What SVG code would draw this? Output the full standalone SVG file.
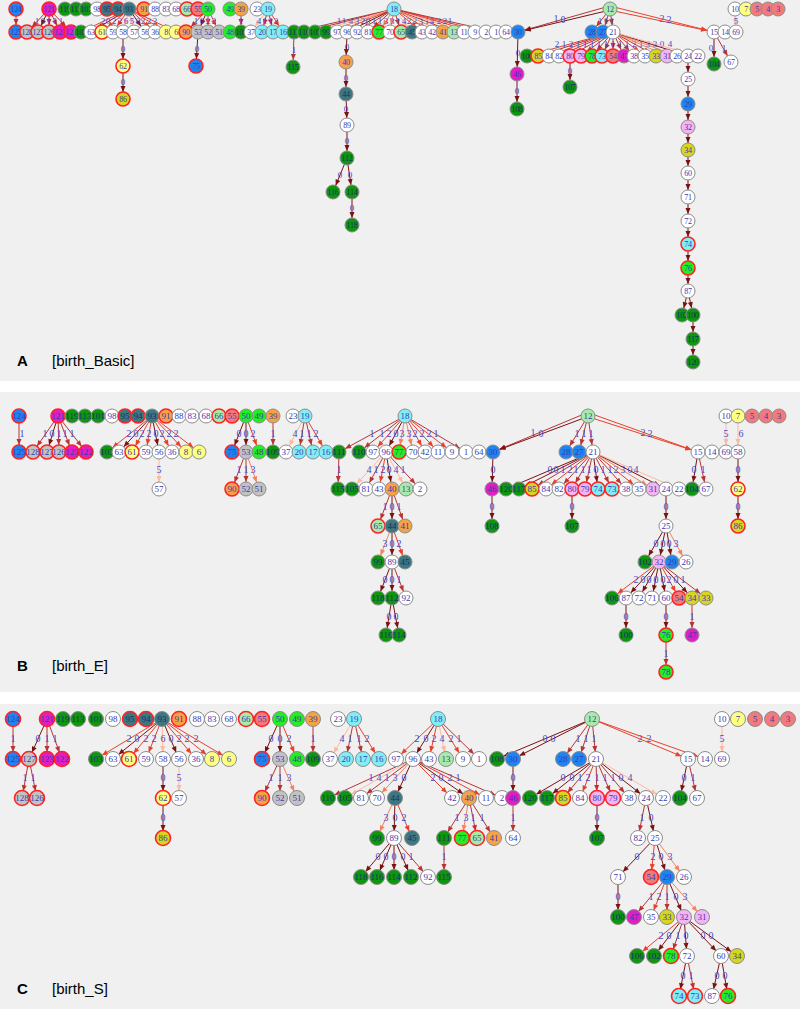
<svg xmlns="http://www.w3.org/2000/svg" width="800" height="1009" viewBox="0 0 800 1009">
<style>
.n circle{stroke:#8c8c8c;stroke-width:1}
.n text{font:9px "Liberation Serif",serif;fill:#3a3ab0;text-anchor:middle}
#nodesA .n text{font-size:8px;letter-spacing:-0.3px}
.w circle{fill:#fff}
.bl circle{fill:#1e84f2}
.mg circle{fill:#e01ec4}
.dg circle{fill:#0e960e}
.tl circle{fill:#3d7780}
.or circle{fill:#f6a244}
.lg circle{fill:#a6eca6}
.sa circle{fill:#f27a7a}
.bg circle{fill:#22ee22}
.gr circle{fill:#c2c2c2}
.ly circle{fill:#ffff80}
.ol circle{fill:#d6d61c}
.cy circle{fill:#80eef6}
.pk circle{fill:#f4b4f4}
.r circle{stroke:#ff2222;stroke-width:1.6}
.dg text,.tl text{fill:#17306a}
#connectors path{fill:none;stroke-width:1}
.e0{stroke:#7a1212;marker-end:url(#m0)}
.e1{stroke:#b83434;marker-end:url(#m1)}
.e2{stroke:#e8402c;marker-end:url(#m2)}
.e3{stroke:#f5825e;marker-end:url(#m3)}
.e4{stroke:#ffb8a0;marker-end:url(#m4)}
#connectors text{font:10px "Liberation Serif",serif;fill:#4a4ac4;text-anchor:middle}
#connectors text.s{font-size:9px}
.pl{font:bold 15px "Liberation Sans",Arial,sans-serif;fill:#000}
.pt{font:15px "Liberation Sans",Arial,sans-serif;fill:#000}
</style>
<defs>
<marker id="m0" viewBox="0 0 6 5" refX="13" refY="2.5" markerWidth="6" markerHeight="5" markerUnits="userSpaceOnUse" orient="auto" overflow="visible"><path d="M0 0L6 2.5L0 5z" fill="#7a1212"/></marker>
<marker id="m1" viewBox="0 0 6 5" refX="13" refY="2.5" markerWidth="6" markerHeight="5" markerUnits="userSpaceOnUse" orient="auto" overflow="visible"><path d="M0 0L6 2.5L0 5z" fill="#b83434"/></marker>
<marker id="m2" viewBox="0 0 6 5" refX="13" refY="2.5" markerWidth="6" markerHeight="5" markerUnits="userSpaceOnUse" orient="auto" overflow="visible"><path d="M0 0L6 2.5L0 5z" fill="#e8402c"/></marker>
<marker id="m3" viewBox="0 0 6 5" refX="13" refY="2.5" markerWidth="6" markerHeight="5" markerUnits="userSpaceOnUse" orient="auto" overflow="visible"><path d="M0 0L6 2.5L0 5z" fill="#f5825e"/></marker>
<marker id="m4" viewBox="0 0 6 5" refX="13" refY="2.5" markerWidth="6" markerHeight="5" markerUnits="userSpaceOnUse" orient="auto" overflow="visible"><path d="M0 0L6 2.5L0 5z" fill="#ffb8a0"/></marker>
</defs>
<rect width="800" height="1009" fill="#fff"/>
<rect x="0" y="0" width="800" height="381" fill="#f0f0f0"/>
<rect x="0" y="392" width="800" height="300" fill="#f0f0f0"/>
<rect x="0" y="704" width="800" height="305" fill="#f0f0f0"/>
<text class="pl" x="17" y="366">A</text><text class="pt" x="52" y="366">[birth_Basic]</text>
<text class="pl" x="17" y="671">B</text><text class="pt" x="52" y="671">[birth_E]</text>
<text class="pl" x="17" y="994">C</text><text class="pt" x="52" y="994">[birth_S]</text>
<g id="connectors">
<!-- Panel A -->
<path class="e1" d="M16 9L16 32"/>
<path class="e1" d="M49 9L27 32"/><text class="s" x="37" y="24">1</text>
<path class="e0" d="M49 9L38 32"/><text class="s" x="43" y="24">0</text>
<path class="e1" d="M49 9L49 32"/><text class="s" x="49" y="24">1</text>
<path class="e1" d="M49 9L60 32"/><text class="s" x="55" y="24">1</text>
<path class="e1" d="M49 9L71 32"/><text class="s" x="61" y="24">1</text>
<path class="e2" d="M129 9L81 32"/><text class="s" x="103" y="24">2</text>
<path class="e0" d="M129 9L91 32"/><text class="s" x="108" y="24">0</text>
<path class="e2" d="M129 9L102 32"/><text class="s" x="114" y="24">2</text>
<path class="e2" d="M129 9L113 32"/><text class="s" x="120" y="24">2</text>
<path class="e4" d="M129 9L123 32"/><text class="s" x="126" y="24">6</text>
<path class="e4" d="M129 9L134 32"/><text class="s" x="132" y="24">5</text>
<path class="e0" d="M129 9L145 32"/><text class="s" x="138" y="24">0</text>
<path class="e2" d="M129 9L155 32"/><text class="s" x="143" y="24">2</text>
<path class="e2" d="M129 9L166 32"/><text class="s" x="149" y="24">2</text>
<path class="e2" d="M129 9L176 32"/><text class="s" x="155" y="24">2</text>
<path class="e1" d="M208 9L186 32"/><text class="s" x="196" y="24">1</text>
<path class="e0" d="M208 9L198 32"/><text class="s" x="202" y="24">0</text>
<path class="e2" d="M208 9L208 32"/><text class="s" x="208" y="24">2</text>
<path class="e2" d="M208 9L219 32"/><text class="s" x="214" y="24">2</text>
<path class="e0" d="M198 32L196 66"/><text class="s" x="197" y="52">0</text>
<path class="e1" d="M241 9L241 32"/><text class="s" x="241" y="24">1</text>
<path class="e4" d="M268 9L251 32"/><text class="s" x="259" y="24">4</text>
<path class="e1" d="M268 9L262 32"/><text class="s" x="265" y="24">1</text>
<path class="e1" d="M268 9L273 32"/><text class="s" x="271" y="24">1</text>
<path class="e2" d="M268 9L283 32"/><text class="s" x="276" y="24">2</text>
<path class="e1" d="M394 9L294 32"/><text class="s" x="339" y="24">1</text>
<path class="e1" d="M394 9L304 32"/><text class="s" x="344" y="24">1</text>
<path class="e4" d="M394 9L315 32"/><text class="s" x="351" y="24">4</text>
<path class="e3" d="M394 9L326 32"/><text class="s" x="357" y="24">3</text>
<path class="e2" d="M394 9L337 32"/><text class="s" x="363" y="24">2</text>
<path class="e0" d="M394 9L347 32"/><text class="s" x="368" y="24">0</text>
<path class="e1" d="M394 9L357 32"/><text class="s" x="374" y="24">1</text>
<path class="e1" d="M394 9L368 32"/><text class="s" x="380" y="24">1</text>
<path class="e3" d="M394 9L379 32"/><text class="s" x="386" y="24">3</text>
<path class="e3" d="M394 9L390 32"/><text class="s" x="392" y="24">3</text>
<path class="e1" d="M394 9L401 32"/><text class="s" x="398" y="24">1</text>
<path class="e4" d="M394 9L412 32"/><text class="s" x="404" y="24">4</text>
<path class="e2" d="M394 9L422 32"/><text class="s" x="409" y="24">2</text>
<path class="e2" d="M394 9L432 32"/><text class="s" x="415" y="24">2</text>
<path class="e3" d="M394 9L443 32"/><text class="s" x="421" y="24">3</text>
<path class="e1" d="M394 9L454 32"/><text class="s" x="427" y="24">1</text>
<path class="e4" d="M394 9L464 32"/><text class="s" x="432" y="24">4</text>
<path class="e2" d="M394 9L475 32"/><text class="s" x="439" y="24">2</text>
<path class="e2" d="M394 9L486 32"/><text class="s" x="445" y="24">2</text>
<path class="e1" d="M394 9L496 32"/><text class="s" x="450" y="24">1</text>
<path class="e1" d="M294 32L293 67"/><text class="s" x="294" y="53">1</text>
<path class="e0" d="M347 32L346 62"/><text class="s" x="347" y="50">0</text>
<path class="e0" d="M346 62L346 94"/><text class="s" x="346" y="81">0</text>
<path class="e0" d="M346 94L347 125"/><text class="s" x="346" y="112">0</text>
<path class="e0" d="M347 125L347 158"/><text class="s" x="347" y="144">0</text>
<path class="e0" d="M347 158L333 192"/><text class="s" x="340" y="178">0</text>
<path class="e0" d="M347 158L352 192"/><text class="s" x="350" y="178">0</text>
<path class="e0" d="M352 192L352 225"/><text class="s" x="352" y="211">0</text>
<path class="e0" d="M123 32L123 66"/><text class="s" x="123" y="52">0</text>
<path class="e0" d="M123 66L123 99"/><text class="s" x="123" y="85">0</text>
<path class="e1" d="M606 7L518 32"/><text x="556" y="22">1</text>
<path class="e0" d="M606 11L518 32"/><text x="563" y="23">0</text>
<path class="e1" d="M610 9L592 32"/><text class="s" x="600" y="24">1</text>
<path class="e1" d="M610 9L603 32"/><text class="s" x="606" y="24">1</text>
<path class="e1" d="M610 9L613 32"/><text class="s" x="612" y="24">1</text>
<path class="e2" d="M614 7L714 32"/><text x="662" y="22">2</text>
<path class="e2" d="M614 11L714 32"/><text x="669" y="23">2</text>
<path class="e2" d="M613 32L527 56"/><text class="s" x="557" y="47">2</text>
<path class="e1" d="M613 32L538 56"/><text class="s" x="564" y="47">1</text>
<path class="e2" d="M613 32L549 56"/><text class="s" x="571" y="47">2</text>
<path class="e1" d="M613 32L559 56"/><text class="s" x="578" y="47">1</text>
<path class="e1" d="M613 32L570 56"/><text class="s" x="585" y="47">1</text>
<path class="e1" d="M613 32L581 56"/><text class="s" x="592" y="47">1</text>
<path class="e1" d="M613 32L592 56"/><text class="s" x="599" y="47">1</text>
<path class="e1" d="M613 32L602 56"/><text class="s" x="606" y="47">1</text>
<path class="e1" d="M613 32L613 56"/><text class="s" x="613" y="47">1</text>
<path class="e1" d="M613 32L624 56"/><text class="s" x="620" y="47">1</text>
<path class="e1" d="M613 32L634 56"/><text class="s" x="627" y="47">1</text>
<path class="e2" d="M613 32L645 56"/><text class="s" x="634" y="47">2</text>
<path class="e1" d="M613 32L656 56"/><text class="s" x="641" y="47">1</text>
<path class="e3" d="M613 32L667 56"/><text class="s" x="648" y="47">3</text>
<path class="e3" d="M613 32L677 56"/><text class="s" x="655" y="47">3</text>
<path class="e0" d="M613 32L688 56"/><text class="s" x="662" y="47">0</text>
<path class="e4" d="M613 32L698 56"/><text class="s" x="670" y="47">4</text>
<path class="e0" d="M570 56L570 87"/><text class="s" x="570" y="74">0</text>
<path class="e0" d="M518 32L517 74"/><text class="s" x="518" y="56">0</text>
<path class="e0" d="M517 74L517 109"/><text class="s" x="517" y="94">0</text>
<path class="e0" d="M714 32L714 64"/><text class="s" x="711" y="51">0</text>
<path class="e1" d="M714 32L731 62"/><text class="s" x="724" y="51">1</text>
<path class="e4" d="M735 9L736 32"/><text class="s" x="736" y="24">5</text>
<path class="e0" d="M688 56L688 79"/>
<path class="e0" d="M688 79L688 104"/>
<path class="e0" d="M688 104L688 127"/>
<path class="e0" d="M688 127L688 150"/>
<path class="e0" d="M688 150L688 173"/>
<path class="e0" d="M688 173L688 197"/>
<path class="e0" d="M688 197L688 221"/>
<path class="e0" d="M688 221L688 244"/>
<path class="e0" d="M688 244L688 268"/>
<path class="e0" d="M688 268L688 291"/>
<path class="e0" d="M688 291L682 315"/>
<path class="e0" d="M688 291L693 315"/>
<path class="e0" d="M693 315L693 339"/>
<path class="e0" d="M693 339L693 362"/>
<!-- Panel B -->
<path class="e1" d="M19 416L19 452"/><text x="22" y="437">1</text>
<path class="e1" d="M58 416L33 452"/><text x="45" y="437">1</text>
<path class="e0" d="M58 416L47 452"/><text x="52" y="437">0</text>
<path class="e1" d="M58 416L59 452"/><text x="59" y="437">1</text>
<path class="e1" d="M58 416L72 452"/><text x="65" y="437">1</text>
<path class="e1" d="M58 416L86 452"/><text x="72" y="437">1</text>
<path class="e2" d="M152 416L107 452"/><text x="129" y="437">2</text>
<path class="e0" d="M152 416L119 452"/><text x="136" y="437">0</text>
<path class="e2" d="M152 416L132 452"/><text x="142" y="437">2</text>
<path class="e2" d="M152 416L146 452"/><text x="149" y="437">2</text>
<path class="e0" d="M152 416L159 452"/><text x="156" y="437">0</text>
<path class="e2" d="M152 416L172 452"/><text x="162" y="437">2</text>
<path class="e2" d="M152 416L186 452"/><text x="169" y="437">2</text>
<path class="e2" d="M152 416L199 452"/><text x="176" y="437">2</text>
<path class="e4" d="M159 452L159 489"/><text x="159" y="473">5</text>
<path class="e0" d="M246 416L232 452"/><text x="239" y="437">0</text>
<path class="e0" d="M246 416L246 452"/><text x="246" y="437">0</text>
<path class="e2" d="M246 416L259 452"/><text x="253" y="437">2</text>
<path class="e1" d="M246 452L232 489"/><text x="239" y="473">1</text>
<path class="e1" d="M246 452L246 489"/><text x="246" y="473">1</text>
<path class="e3" d="M246 452L259 489"/><text x="253" y="473">3</text>
<path class="e1" d="M273 416L273 452"/><text x="273" y="437">1</text>
<path class="e4" d="M305 416L286 452"/><text x="295" y="437">4</text>
<path class="e1" d="M305 416L299 452"/><text x="302" y="437">1</text>
<path class="e1" d="M305 416L313 452"/><text x="309" y="437">1</text>
<path class="e2" d="M305 416L326 452"/><text x="316" y="437">2</text>
<path class="e1" d="M405 416L339 452"/><text x="372" y="437">1</text>
<path class="e1" d="M405 416L359 452"/><text x="382" y="437">1</text>
<path class="e2" d="M405 416L373 452"/><text x="389" y="437">2</text>
<path class="e0" d="M405 416L386 452"/><text x="396" y="437">0</text>
<path class="e3" d="M405 416L399 452"/><text x="402" y="437">3</text>
<path class="e3" d="M405 416L413 452"/><text x="409" y="437">3</text>
<path class="e2" d="M405 416L425 452"/><text x="415" y="437">2</text>
<path class="e2" d="M405 416L438 452"/><text x="422" y="437">2</text>
<path class="e2" d="M405 416L452 452"/><text x="429" y="437">2</text>
<path class="e1" d="M405 416L466 452"/><text x="436" y="437">1</text>
<path class="e1" d="M339 452L338 489"/><text x="339" y="473">1</text>
<path class="e4" d="M386 452L352 489"/><text x="369" y="473">4</text>
<path class="e1" d="M386 452L366 489"/><text x="376" y="473">1</text>
<path class="e2" d="M386 452L379 489"/><text x="383" y="473">2</text>
<path class="e0" d="M386 452L392 489"/><text x="389" y="473">0</text>
<path class="e4" d="M386 452L406 489"/><text x="396" y="473">4</text>
<path class="e1" d="M386 452L420 489"/><text x="403" y="473">1</text>
<path class="e1" d="M392 489L378 526"/><text x="385" y="510">1</text>
<path class="e0" d="M392 489L392 526"/><text x="392" y="510">0</text>
<path class="e1" d="M392 489L405 526"/><text x="399" y="510">1</text>
<path class="e3" d="M392 526L378 562"/><text x="385" y="547">3</text>
<path class="e0" d="M392 526L392 562"/><text x="392" y="547">0</text>
<path class="e2" d="M392 526L405 562"/><text x="399" y="547">2</text>
<path class="e0" d="M392 562L378 598"/><text x="385" y="583">0</text>
<path class="e0" d="M392 562L392 598"/><text x="392" y="583">0</text>
<path class="e1" d="M392 562L406 598"/><text x="399" y="583">1</text>
<path class="e0" d="M392 598L386 635"/><text x="389" y="620">0</text>
<path class="e0" d="M392 598L399 635"/><text x="396" y="620">0</text>
<path class="e1" d="M584 414L493 452"/><text x="533" y="436">1</text>
<path class="e0" d="M584 418L493 452"/><text x="541" y="437">0</text>
<path class="e1" d="M588 416L566 452"/><text x="577" y="437">1</text>
<path class="e1" d="M588 416L579 452"/><text x="584" y="437">1</text>
<path class="e1" d="M588 416L593 452"/><text x="591" y="437">1</text>
<path class="e2" d="M592 414L698 452"/><text x="643" y="436">2</text>
<path class="e2" d="M592 418L698 452"/><text x="650" y="437">2</text>
<path class="e0" d="M493 452L492 489"/><text x="493" y="473">0</text>
<path class="e0" d="M492 489L492 526"/><text x="492" y="510">0</text>
<path class="e0" d="M593 452L506 489"/><text x="550" y="473">0</text>
<path class="e0" d="M593 452L519 489"/><text x="556" y="473">0</text>
<path class="e1" d="M593 452L532 489"/><text x="563" y="473">1</text>
<path class="e2" d="M593 452L546 489"/><text x="570" y="473">2</text>
<path class="e1" d="M593 452L559 489"/><text x="576" y="473">1</text>
<path class="e1" d="M593 452L572 489"/><text x="583" y="473">1</text>
<path class="e1" d="M593 452L585 489"/><text x="589" y="473">1</text>
<path class="e0" d="M593 452L598 489"/><text x="596" y="473">0</text>
<path class="e1" d="M593 452L612 489"/><text x="603" y="473">1</text>
<path class="e1" d="M593 452L626 489"/><text x="610" y="473">1</text>
<path class="e2" d="M593 452L639 489"/><text x="616" y="473">2</text>
<path class="e3" d="M593 452L653 489"/><text x="623" y="473">3</text>
<path class="e0" d="M593 452L666 489"/><text x="630" y="473">0</text>
<path class="e4" d="M593 452L679 489"/><text x="636" y="473">4</text>
<path class="e0" d="M572 489L572 526"/><text x="572" y="510">0</text>
<path class="e0" d="M666 489L666 526"/><text x="666" y="510">0</text>
<path class="e0" d="M698 452L692 489"/><text x="694" y="473">0</text>
<path class="e1" d="M698 452L706 489"/><text x="703" y="473">1</text>
<path class="e4" d="M726 416L726 452"/><text x="726" y="437">5</text>
<path class="e4" d="M738 416L738 452"/><text x="741" y="437">6</text>
<path class="e0" d="M738 452L738 489"/><text x="738" y="473">0</text>
<path class="e0" d="M738 489L738 526"/><text x="738" y="510">0</text>
<path class="e0" d="M666 526L645 562"/><text x="656" y="547">0</text>
<path class="e0" d="M666 526L659 562"/><text x="663" y="547">0</text>
<path class="e0" d="M666 526L672 562"/><text x="669" y="547">0</text>
<path class="e3" d="M666 526L686 562"/><text x="676" y="547">3</text>
<path class="e2" d="M659 562L612 598"/><text x="636" y="583">2</text>
<path class="e0" d="M659 562L626 598"/><text x="643" y="583">0</text>
<path class="e0" d="M659 562L639 598"/><text x="649" y="583">0</text>
<path class="e0" d="M659 562L652 598"/><text x="656" y="583">0</text>
<path class="e0" d="M659 562L666 598"/><text x="663" y="583">0</text>
<path class="e2" d="M659 562L679 598"/><text x="669" y="583">2</text>
<path class="e0" d="M659 562L692 598"/><text x="676" y="583">0</text>
<path class="e1" d="M659 562L706 598"/><text x="683" y="583">1</text>
<path class="e0" d="M626 598L626 635"/><text x="626" y="620">0</text>
<path class="e0" d="M666 598L666 635"/><text x="666" y="620">0</text>
<path class="e1" d="M692 598L692 635"/><text x="692" y="620">1</text>
<path class="e1" d="M666 635L666 672"/><text x="666" y="657">1</text>
<!-- Panel C -->
<path class="e1" d="M13 719L13 759"/><text x="13" y="742">1</text>
<path class="e0" d="M47 719L29 759"/><text x="38" y="742">0</text>
<path class="e1" d="M47 719L47 759"/><text x="47" y="742">1</text>
<path class="e1" d="M47 719L62 759"/><text x="55" y="742">1</text>
<path class="e1" d="M29 759L22 798"/><text x="25" y="781">1</text>
<path class="e1" d="M29 759L37 798"/><text x="33" y="781">1</text>
<path class="e2" d="M162 719L96 759"/><text x="129" y="742">2</text>
<path class="e0" d="M162 719L113 759"/><text x="137" y="742">0</text>
<path class="e2" d="M162 719L129 759"/><text x="146" y="742">2</text>
<path class="e2" d="M162 719L146 759"/><text x="154" y="742">2</text>
<path class="e4" d="M162 719L163 759"/><text x="163" y="742">6</text>
<path class="e0" d="M162 719L179 759"/><text x="171" y="742">0</text>
<path class="e2" d="M162 719L196 759"/><text x="179" y="742">2</text>
<path class="e2" d="M162 719L212 759"/><text x="187" y="742">2</text>
<path class="e2" d="M162 719L229 759"/><text x="196" y="742">2</text>
<path class="e0" d="M163 759L163 798"/><text x="163" y="781">0</text>
<path class="e0" d="M163 798L163 838"/><text x="163" y="821">0</text>
<path class="e4" d="M179 759L179 798"/><text x="179" y="781">5</text>
<path class="e0" d="M280 719L262 759"/><text x="271" y="742">0</text>
<path class="e0" d="M280 719L280 759"/><text x="280" y="742">0</text>
<path class="e2" d="M280 719L297 759"/><text x="289" y="742">2</text>
<path class="e1" d="M280 759L262 798"/><text x="271" y="781">1</text>
<path class="e1" d="M280 759L280 798"/><text x="280" y="781">1</text>
<path class="e3" d="M280 759L297 798"/><text x="289" y="781">3</text>
<path class="e1" d="M313 719L313 759"/><text x="313" y="742">1</text>
<path class="e4" d="M354 719L330 759"/><text x="342" y="742">4</text>
<path class="e1" d="M354 719L346 759"/><text x="350" y="742">1</text>
<path class="e1" d="M354 719L363 759"/><text x="359" y="742">1</text>
<path class="e2" d="M354 719L379 759"/><text x="367" y="742">2</text>
<path class="e2" d="M438 719L396 759"/><text x="417" y="742">2</text>
<path class="e0" d="M438 719L413 759"/><text x="426" y="742">0</text>
<path class="e2" d="M438 719L429 759"/><text x="434" y="742">2</text>
<path class="e4" d="M438 719L446 759"/><text x="442" y="742">4</text>
<path class="e2" d="M438 719L463 759"/><text x="451" y="742">2</text>
<path class="e1" d="M438 719L479 759"/><text x="459" y="742">1</text>
<path class="e1" d="M413 759L328 798"/><text x="371" y="781">1</text>
<path class="e4" d="M413 759L345 798"/><text x="379" y="781">4</text>
<path class="e1" d="M413 759L361 798"/><text x="387" y="781">1</text>
<path class="e3" d="M413 759L377 798"/><text x="395" y="781">3</text>
<path class="e0" d="M413 759L395 798"/><text x="404" y="781">0</text>
<path class="e2" d="M413 759L452 798"/><text x="433" y="781">2</text>
<path class="e0" d="M413 759L469 798"/><text x="441" y="781">0</text>
<path class="e2" d="M413 759L486 798"/><text x="450" y="781">2</text>
<path class="e1" d="M413 759L502 798"/><text x="458" y="781">1</text>
<path class="e3" d="M395 798L377 838"/><text x="386" y="821">3</text>
<path class="e0" d="M395 798L394 838"/><text x="395" y="821">0</text>
<path class="e2" d="M395 798L412 838"/><text x="404" y="821">2</text>
<path class="e0" d="M394 838L361 877"/><text x="378" y="860">0</text>
<path class="e0" d="M394 838L377 877"/><text x="386" y="860">0</text>
<path class="e0" d="M394 838L394 877"/><text x="394" y="860">0</text>
<path class="e0" d="M394 838L411 877"/><text x="403" y="860">0</text>
<path class="e1" d="M394 838L428 877"/><text x="411" y="860">1</text>
<path class="e1" d="M469 798L444 838"/><text x="457" y="821">1</text>
<path class="e3" d="M469 798L462 838"/><text x="466" y="821">3</text>
<path class="e1" d="M469 798L477 838"/><text x="473" y="821">1</text>
<path class="e1" d="M469 798L494 838"/><text x="482" y="821">1</text>
<path class="e1" d="M444 838L444 877"/><text x="444" y="860">1</text>
<path class="e0" d="M592 719L497 759"/><text x="545" y="742">0</text>
<path class="e0" d="M592 719L513 759"/><text x="553" y="742">0</text>
<path class="e1" d="M592 719L563 759"/><text x="578" y="742">1</text>
<path class="e1" d="M592 719L579 759"/><text x="586" y="742">1</text>
<path class="e1" d="M592 719L596 759"/><text x="594" y="742">1</text>
<path class="e2" d="M592 719L688 759"/><text x="640" y="742">2</text>
<path class="e2" d="M592 719L705 759"/><text x="649" y="742">2</text>
<path class="e0" d="M513 759L513 798"/><text x="513" y="781">0</text>
<path class="e1" d="M513 798L513 838"/><text x="513" y="821">1</text>
<path class="e0" d="M596 759L530 798"/><text x="563" y="781">0</text>
<path class="e0" d="M596 759L547 798"/><text x="572" y="781">0</text>
<path class="e1" d="M596 759L563 798"/><text x="580" y="781">1</text>
<path class="e2" d="M596 759L580 798"/><text x="588" y="781">2</text>
<path class="e1" d="M596 759L597 798"/><text x="597" y="781">1</text>
<path class="e1" d="M596 759L613 798"/><text x="605" y="781">1</text>
<path class="e1" d="M596 759L629 798"/><text x="613" y="781">1</text>
<path class="e0" d="M596 759L646 798"/><text x="621" y="781">0</text>
<path class="e4" d="M596 759L663 798"/><text x="630" y="781">4</text>
<path class="e0" d="M597 798L597 838"/><text x="597" y="821">0</text>
<path class="e1" d="M646 798L638 838"/><text x="642" y="821">1</text>
<path class="e0" d="M646 798L655 838"/><text x="651" y="821">0</text>
<path class="e0" d="M688 759L680 798"/><text x="684" y="781">0</text>
<path class="e1" d="M688 759L697 798"/><text x="693" y="781">1</text>
<path class="e4" d="M722 719L722 759"/><text x="722" y="742">5</text>
<path class="e0" d="M655 838L618 877"/><text x="637" y="860">0</text>
<path class="e2" d="M655 838L651 877"/><text x="653" y="860">2</text>
<path class="e0" d="M655 838L667 877"/><text x="661" y="860">0</text>
<path class="e3" d="M655 838L684 877"/><text x="670" y="860">3</text>
<path class="e0" d="M618 877L618 917"/><text x="618" y="900">0</text>
<path class="e1" d="M667 877L634 917"/><text x="651" y="900">1</text>
<path class="e2" d="M667 877L651 917"/><text x="659" y="900">2</text>
<path class="e1" d="M667 877L667 917"/><text x="667" y="900">1</text>
<path class="e0" d="M667 877L684 917"/><text x="676" y="900">0</text>
<path class="e3" d="M667 877L702 917"/><text x="685" y="900">3</text>
<path class="e2" d="M684 917L637 956"/><text x="661" y="939">2</text>
<path class="e0" d="M684 917L654 956"/><text x="669" y="939">0</text>
<path class="e1" d="M684 917L671 956"/><text x="678" y="939">1</text>
<path class="e0" d="M684 917L687 956"/><text x="686" y="939">0</text>
<path class="e0" d="M684 917L721 956"/><text x="703" y="939">0</text>
<path class="e0" d="M684 917L737 956"/><text x="711" y="939">0</text>
<path class="e0" d="M687 956L679 996"/><text x="683" y="979">0</text>
<path class="e1" d="M687 956L695 996"/><text x="691" y="979">1</text>
<path class="e0" d="M721 956L712 996"/><text x="717" y="979">0</text>
<path class="e0" d="M721 956L728 996"/><text x="725" y="979">0</text>
</g>
<g id="nodesA">
<g id="A124" class="n bl r" transform="translate(16 9)"><circle r="7"/><text y="3">124</text></g>
<g id="A121" class="n mg r" transform="translate(49 9)"><circle r="7"/><text y="3">121</text></g>
<g id="A119" class="n dg" transform="translate(65 9)"><circle r="7"/><text y="3">119</text></g>
<g id="A113" class="n dg" transform="translate(76 9)"><circle r="7"/><text y="3">113</text></g>
<g id="A101" class="n dg" transform="translate(86 9)"><circle r="7"/><text y="3">101</text></g>
<g id="A98" class="n w" transform="translate(97 9)"><circle r="7"/><text y="3">98</text></g>
<g id="A95" class="n tl r" transform="translate(107 9)"><circle r="7"/><text y="3">95</text></g>
<g id="A94" class="n tl r" transform="translate(118 9)"><circle r="7"/><text y="3">94</text></g>
<g id="A93" class="n tl" transform="translate(129 9)"><circle r="7"/><text y="3">93</text></g>
<g id="A91" class="n or r" transform="translate(144 9)"><circle r="7"/><text y="3">91</text></g>
<g id="A88" class="n w" transform="translate(155 9)"><circle r="7"/><text y="3">88</text></g>
<g id="A83" class="n w" transform="translate(166 9)"><circle r="7"/><text y="3">83</text></g>
<g id="A68" class="n w" transform="translate(176 9)"><circle r="7"/><text y="3">68</text></g>
<g id="A66" class="n lg r" transform="translate(187 9)"><circle r="7"/><text y="3">66</text></g>
<g id="A55" class="n sa r" transform="translate(198 9)"><circle r="7"/><text y="3">55</text></g>
<g id="A50" class="n bg" transform="translate(208 9)"><circle r="7"/><text y="3">50</text></g>
<g id="A49" class="n bg" transform="translate(230 9)"><circle r="7"/><text y="3">49</text></g>
<g id="A39" class="n or" transform="translate(241 9)"><circle r="7"/><text y="3">39</text></g>
<g id="A23" class="n w" transform="translate(257 9)"><circle r="7"/><text y="3">23</text></g>
<g id="A19" class="n cy" transform="translate(268 9)"><circle r="7"/><text y="3">19</text></g>
<g id="A18" class="n cy" transform="translate(394 9)"><circle r="7"/><text y="3">18</text></g>
<g id="A12" class="n lg" transform="translate(610 9)"><circle r="7"/><text y="3">12</text></g>
<g id="A10" class="n w" transform="translate(735 9)"><circle r="7"/><text y="3">10</text></g>
<g id="A7" class="n ly" transform="translate(746 9)"><circle r="7"/><text y="3">7</text></g>
<g id="A5" class="n sa" transform="translate(757 9)"><circle r="7"/><text y="3">5</text></g>
<g id="A4" class="n sa" transform="translate(768 9)"><circle r="7"/><text y="3">4</text></g>
<g id="A3" class="n sa" transform="translate(778 9)"><circle r="7"/><text y="3">3</text></g>
<g id="A125" class="n bl r" transform="translate(16 32)"><circle r="7"/><text y="3">125</text></g>
<g id="A128" class="n gr r" transform="translate(27 32)"><circle r="7"/><text y="3">128</text></g>
<g id="A127" class="n gr r" transform="translate(38 32)"><circle r="7"/><text y="3">127</text></g>
<g id="A126" class="n gr r" transform="translate(49 32)"><circle r="7"/><text y="3">126</text></g>
<g id="A123" class="n mg r" transform="translate(60 32)"><circle r="7"/><text y="3">123</text></g>
<g id="A122" class="n mg r" transform="translate(71 32)"><circle r="7"/><text y="3">122</text></g>
<g id="A103" class="n dg" transform="translate(81 32)"><circle r="7"/><text y="3">103</text></g>
<g id="A63" class="n w" transform="translate(91 32)"><circle r="7"/><text y="3">63</text></g>
<g id="A61" class="n ly r" transform="translate(102 32)"><circle r="7"/><text y="3">61</text></g>
<g id="A59" class="n w" transform="translate(113 32)"><circle r="7"/><text y="3">59</text></g>
<g id="A58" class="n w" transform="translate(123 32)"><circle r="7"/><text y="3">58</text></g>
<g id="A57" class="n w" transform="translate(134 32)"><circle r="7"/><text y="3">57</text></g>
<g id="A56" class="n w" transform="translate(145 32)"><circle r="7"/><text y="3">56</text></g>
<g id="A36" class="n w" transform="translate(155 32)"><circle r="7"/><text y="3">36</text></g>
<g id="A8" class="n ly" transform="translate(166 32)"><circle r="7"/><text y="3">8</text></g>
<g id="A6" class="n ly" transform="translate(176 32)"><circle r="7"/><text y="3">6</text></g>
<g id="A90" class="n or r" transform="translate(186 32)"><circle r="7"/><text y="3">90</text></g>
<g id="A53" class="n gr" transform="translate(198 32)"><circle r="7"/><text y="3">53</text></g>
<g id="A52" class="n gr" transform="translate(208 32)"><circle r="7"/><text y="3">52</text></g>
<g id="A51" class="n gr" transform="translate(219 32)"><circle r="7"/><text y="3">51</text></g>
<g id="A48" class="n bg" transform="translate(230 32)"><circle r="7"/><text y="3">48</text></g>
<g id="A109" class="n dg" transform="translate(241 32)"><circle r="7"/><text y="3">109</text></g>
<g id="A37" class="n w" transform="translate(251 32)"><circle r="7"/><text y="3">37</text></g>
<g id="A20" class="n cy" transform="translate(262 32)"><circle r="7"/><text y="3">20</text></g>
<g id="A17" class="n cy" transform="translate(273 32)"><circle r="7"/><text y="3">17</text></g>
<g id="A16" class="n cy" transform="translate(283 32)"><circle r="7"/><text y="3">16</text></g>
<g id="A111" class="n dg" transform="translate(294 32)"><circle r="7"/><text y="3">111</text></g>
<g id="A110" class="n dg" transform="translate(304 32)"><circle r="7"/><text y="3">110</text></g>
<g id="A105" class="n dg" transform="translate(315 32)"><circle r="7"/><text y="3">105</text></g>
<g id="A99" class="n dg" transform="translate(326 32)"><circle r="7"/><text y="3">99</text></g>
<g id="A97" class="n w" transform="translate(337 32)"><circle r="7"/><text y="3">97</text></g>
<g id="A96" class="n w" transform="translate(347 32)"><circle r="7"/><text y="3">96</text></g>
<g id="A92" class="n w" transform="translate(357 32)"><circle r="7"/><text y="3">92</text></g>
<g id="A81" class="n w" transform="translate(368 32)"><circle r="7"/><text y="3">81</text></g>
<g id="A77" class="n bg r" transform="translate(379 32)"><circle r="7"/><text y="3">77</text></g>
<g id="A70" class="n w" transform="translate(390 32)"><circle r="7"/><text y="3">70</text></g>
<g id="A65" class="n lg r" transform="translate(401 32)"><circle r="7"/><text y="3">65</text></g>
<g id="A45" class="n tl" transform="translate(412 32)"><circle r="7"/><text y="3">45</text></g>
<g id="A43" class="n w" transform="translate(422 32)"><circle r="7"/><text y="3">43</text></g>
<g id="A42" class="n w" transform="translate(432 32)"><circle r="7"/><text y="3">42</text></g>
<g id="A41" class="n or" transform="translate(443 32)"><circle r="7"/><text y="3">41</text></g>
<g id="A13" class="n lg" transform="translate(454 32)"><circle r="7"/><text y="3">13</text></g>
<g id="A11" class="n w" transform="translate(464 32)"><circle r="7"/><text y="3">11</text></g>
<g id="A9" class="n w" transform="translate(475 32)"><circle r="7"/><text y="3">9</text></g>
<g id="A2" class="n w" transform="translate(486 32)"><circle r="7"/><text y="3">2</text></g>
<g id="A1" class="n w" transform="translate(496 32)"><circle r="7"/><text y="3">1</text></g>
<g id="A64" class="n w" transform="translate(506 32)"><circle r="7"/><text y="3">64</text></g>
<g id="A30" class="n bl" transform="translate(518 32)"><circle r="7"/><text y="3">30</text></g>
<g id="A28" class="n bl" transform="translate(592 32)"><circle r="7"/><text y="3">28</text></g>
<g id="A27" class="n bl" transform="translate(603 32)"><circle r="7"/><text y="3">27</text></g>
<g id="A21" class="n w" transform="translate(613 32)"><circle r="7"/><text y="3">21</text></g>
<g id="A15" class="n w" transform="translate(714 32)"><circle r="7"/><text y="3">15</text></g>
<g id="A14" class="n w" transform="translate(725 32)"><circle r="7"/><text y="3">14</text></g>
<g id="A69" class="n w" transform="translate(736 32)"><circle r="7"/><text y="3">69</text></g>
<g id="A106" class="n dg" transform="translate(527 56)"><circle r="7"/><text y="3">106</text></g>
<g id="A85" class="n ol r" transform="translate(538 56)"><circle r="7"/><text y="3">85</text></g>
<g id="A84" class="n w" transform="translate(549 56)"><circle r="7"/><text y="3">84</text></g>
<g id="A82" class="n w" transform="translate(559 56)"><circle r="7"/><text y="3">82</text></g>
<g id="A80" class="n pk r" transform="translate(570 56)"><circle r="7"/><text y="3">80</text></g>
<g id="A79" class="n pk r" transform="translate(581 56)"><circle r="7"/><text y="3">79</text></g>
<g id="A78" class="n bg r" transform="translate(592 56)"><circle r="7"/><text y="3">78</text></g>
<g id="A73" class="n cy r" transform="translate(602 56)"><circle r="7"/><text y="3">73</text></g>
<g id="A54" class="n sa r" transform="translate(613 56)"><circle r="7"/><text y="3">54</text></g>
<g id="A47" class="n mg" transform="translate(624 56)"><circle r="7"/><text y="3">47</text></g>
<g id="A38" class="n w" transform="translate(634 56)"><circle r="7"/><text y="3">38</text></g>
<g id="A35" class="n w" transform="translate(645 56)"><circle r="7"/><text y="3">35</text></g>
<g id="A33" class="n ol" transform="translate(656 56)"><circle r="7"/><text y="3">33</text></g>
<g id="A31" class="n pk" transform="translate(667 56)"><circle r="7"/><text y="3">31</text></g>
<g id="A26" class="n w" transform="translate(677 56)"><circle r="7"/><text y="3">26</text></g>
<g id="A24" class="n w" transform="translate(688 56)"><circle r="7"/><text y="3">24</text></g>
<g id="A22" class="n w" transform="translate(698 56)"><circle r="7"/><text y="3">22</text></g>
<g id="A104" class="n dg" transform="translate(714 64)"><circle r="7"/><text y="3">104</text></g>
<g id="A67" class="n w" transform="translate(731 62)"><circle r="7"/><text y="3">67</text></g>
<g id="A46" class="n mg" transform="translate(517 74)"><circle r="7"/><text y="3">46</text></g>
<g id="A108" class="n dg" transform="translate(517 109)"><circle r="7"/><text y="3">108</text></g>
<g id="A107" class="n dg" transform="translate(570 87)"><circle r="7"/><text y="3">107</text></g>
<g id="A25" class="n w" transform="translate(688 79)"><circle r="7"/><text y="3">25</text></g>
<g id="A29" class="n bl" transform="translate(688 104)"><circle r="7"/><text y="3">29</text></g>
<g id="A32" class="n pk" transform="translate(688 127)"><circle r="7"/><text y="3">32</text></g>
<g id="A34" class="n ol" transform="translate(688 150)"><circle r="7"/><text y="3">34</text></g>
<g id="A60" class="n w" transform="translate(688 173)"><circle r="7"/><text y="3">60</text></g>
<g id="A71" class="n w" transform="translate(688 197)"><circle r="7"/><text y="3">71</text></g>
<g id="A72" class="n w" transform="translate(688 221)"><circle r="7"/><text y="3">72</text></g>
<g id="A74" class="n cy r" transform="translate(688 244)"><circle r="7"/><text y="3">74</text></g>
<g id="A76" class="n bg r" transform="translate(688 268)"><circle r="7"/><text y="3">76</text></g>
<g id="A87" class="n w" transform="translate(688 291)"><circle r="7"/><text y="3">87</text></g>
<g id="A102" class="n dg" transform="translate(682 315)"><circle r="7"/><text y="3">102</text></g>
<g id="A100" class="n dg" transform="translate(693 315)"><circle r="7"/><text y="3">100</text></g>
<g id="A117" class="n dg" transform="translate(693 339)"><circle r="7"/><text y="3">117</text></g>
<g id="A120" class="n dg" transform="translate(693 362)"><circle r="7"/><text y="3">120</text></g>
<g id="A62" class="n ly r" transform="translate(123 66)"><circle r="7"/><text y="3">62</text></g>
<g id="A86" class="n ol r" transform="translate(123 99)"><circle r="7"/><text y="3">86</text></g>
<g id="A75" class="n bl r" transform="translate(196 66)"><circle r="7"/><text y="3">75</text></g>
<g id="A115" class="n dg" transform="translate(293 67)"><circle r="7"/><text y="3">115</text></g>
<g id="A40" class="n or" transform="translate(346 62)"><circle r="7"/><text y="3">40</text></g>
<g id="A44" class="n tl" transform="translate(346 94)"><circle r="7"/><text y="3">44</text></g>
<g id="A89" class="n w" transform="translate(347 125)"><circle r="7"/><text y="3">89</text></g>
<g id="A112" class="n dg" transform="translate(347 158)"><circle r="7"/><text y="3">112</text></g>
<g id="A116" class="n dg" transform="translate(333 192)"><circle r="7"/><text y="3">116</text></g>
<g id="A114" class="n dg" transform="translate(352 192)"><circle r="7"/><text y="3">114</text></g>
<g id="A118" class="n dg" transform="translate(352 225)"><circle r="7"/><text y="3">118</text></g>
</g>
<g id="nodesB">
<g id="B124" class="n bl r" transform="translate(19 416)"><circle r="7"/><text y="3">124</text></g>
<g id="B121" class="n mg r" transform="translate(58 416)"><circle r="7"/><text y="3">121</text></g>
<g id="B119" class="n dg" transform="translate(72 416)"><circle r="7"/><text y="3">119</text></g>
<g id="B113" class="n dg" transform="translate(85 416)"><circle r="7"/><text y="3">113</text></g>
<g id="B101" class="n dg" transform="translate(98 416)"><circle r="7"/><text y="3">101</text></g>
<g id="B98" class="n w" transform="translate(112 416)"><circle r="7"/><text y="3">98</text></g>
<g id="B95" class="n tl r" transform="translate(125 416)"><circle r="7"/><text y="3">95</text></g>
<g id="B94" class="n tl r" transform="translate(138 416)"><circle r="7"/><text y="3">94</text></g>
<g id="B93" class="n tl" transform="translate(152 416)"><circle r="7"/><text y="3">93</text></g>
<g id="B91" class="n or r" transform="translate(166 416)"><circle r="7"/><text y="3">91</text></g>
<g id="B88" class="n w" transform="translate(179 416)"><circle r="7"/><text y="3">88</text></g>
<g id="B83" class="n w" transform="translate(192 416)"><circle r="7"/><text y="3">83</text></g>
<g id="B68" class="n w" transform="translate(206 416)"><circle r="7"/><text y="3">68</text></g>
<g id="B66" class="n lg r" transform="translate(219 416)"><circle r="7"/><text y="3">66</text></g>
<g id="B55" class="n sa r" transform="translate(232 416)"><circle r="7"/><text y="3">55</text></g>
<g id="B50" class="n bg" transform="translate(246 416)"><circle r="7"/><text y="3">50</text></g>
<g id="B49" class="n bg" transform="translate(259 416)"><circle r="7"/><text y="3">49</text></g>
<g id="B39" class="n or" transform="translate(273 416)"><circle r="7"/><text y="3">39</text></g>
<g id="B23" class="n w" transform="translate(293 416)"><circle r="7"/><text y="3">23</text></g>
<g id="B19" class="n cy" transform="translate(305 416)"><circle r="7"/><text y="3">19</text></g>
<g id="B18" class="n cy" transform="translate(405 416)"><circle r="7"/><text y="3">18</text></g>
<g id="B12" class="n lg" transform="translate(588 416)"><circle r="7"/><text y="3">12</text></g>
<g id="B10" class="n w" transform="translate(726 416)"><circle r="7"/><text y="3">10</text></g>
<g id="B7" class="n ly" transform="translate(738 416)"><circle r="7"/><text y="3">7</text></g>
<g id="B5" class="n sa" transform="translate(752 416)"><circle r="7"/><text y="3">5</text></g>
<g id="B4" class="n sa" transform="translate(766 416)"><circle r="7"/><text y="3">4</text></g>
<g id="B3" class="n sa" transform="translate(779 416)"><circle r="7"/><text y="3">3</text></g>
<g id="B125" class="n bl r" transform="translate(19 452)"><circle r="7"/><text y="3">125</text></g>
<g id="B128" class="n gr r" transform="translate(33 452)"><circle r="7"/><text y="3">128</text></g>
<g id="B127" class="n gr r" transform="translate(47 452)"><circle r="7"/><text y="3">127</text></g>
<g id="B126" class="n gr r" transform="translate(59 452)"><circle r="7"/><text y="3">126</text></g>
<g id="B123" class="n mg r" transform="translate(72 452)"><circle r="7"/><text y="3">123</text></g>
<g id="B122" class="n mg r" transform="translate(86 452)"><circle r="7"/><text y="3">122</text></g>
<g id="B103" class="n dg" transform="translate(107 452)"><circle r="7"/><text y="3">103</text></g>
<g id="B63" class="n w" transform="translate(119 452)"><circle r="7"/><text y="3">63</text></g>
<g id="B61" class="n ly r" transform="translate(132 452)"><circle r="7"/><text y="3">61</text></g>
<g id="B59" class="n w" transform="translate(146 452)"><circle r="7"/><text y="3">59</text></g>
<g id="B56" class="n w" transform="translate(159 452)"><circle r="7"/><text y="3">56</text></g>
<g id="B36" class="n w" transform="translate(172 452)"><circle r="7"/><text y="3">36</text></g>
<g id="B8" class="n ly" transform="translate(186 452)"><circle r="7"/><text y="3">8</text></g>
<g id="B6" class="n ly" transform="translate(199 452)"><circle r="7"/><text y="3">6</text></g>
<g id="B75" class="n bl r" transform="translate(232 452)"><circle r="7"/><text y="3">75</text></g>
<g id="B53" class="n gr" transform="translate(246 452)"><circle r="7"/><text y="3">53</text></g>
<g id="B48" class="n bg" transform="translate(259 452)"><circle r="7"/><text y="3">48</text></g>
<g id="B109" class="n dg" transform="translate(273 452)"><circle r="7"/><text y="3">109</text></g>
<g id="B37" class="n w" transform="translate(286 452)"><circle r="7"/><text y="3">37</text></g>
<g id="B20" class="n cy" transform="translate(299 452)"><circle r="7"/><text y="3">20</text></g>
<g id="B17" class="n cy" transform="translate(313 452)"><circle r="7"/><text y="3">17</text></g>
<g id="B16" class="n cy" transform="translate(326 452)"><circle r="7"/><text y="3">16</text></g>
<g id="B111" class="n dg" transform="translate(339 452)"><circle r="7"/><text y="3">111</text></g>
<g id="B110" class="n dg" transform="translate(359 452)"><circle r="7"/><text y="3">110</text></g>
<g id="B97" class="n w" transform="translate(373 452)"><circle r="7"/><text y="3">97</text></g>
<g id="B96" class="n w" transform="translate(386 452)"><circle r="7"/><text y="3">96</text></g>
<g id="B77" class="n bg r" transform="translate(399 452)"><circle r="7"/><text y="3">77</text></g>
<g id="B70" class="n w" transform="translate(413 452)"><circle r="7"/><text y="3">70</text></g>
<g id="B42" class="n w" transform="translate(425 452)"><circle r="7"/><text y="3">42</text></g>
<g id="B11" class="n w" transform="translate(438 452)"><circle r="7"/><text y="3">11</text></g>
<g id="B9" class="n w" transform="translate(452 452)"><circle r="7"/><text y="3">9</text></g>
<g id="B1" class="n w" transform="translate(466 452)"><circle r="7"/><text y="3">1</text></g>
<g id="B64" class="n w" transform="translate(479 452)"><circle r="7"/><text y="3">64</text></g>
<g id="B30" class="n bl" transform="translate(493 452)"><circle r="7"/><text y="3">30</text></g>
<g id="B28" class="n bl" transform="translate(566 452)"><circle r="7"/><text y="3">28</text></g>
<g id="B27" class="n bl" transform="translate(579 452)"><circle r="7"/><text y="3">27</text></g>
<g id="B21" class="n w" transform="translate(593 452)"><circle r="7"/><text y="3">21</text></g>
<g id="B15" class="n w" transform="translate(698 452)"><circle r="7"/><text y="3">15</text></g>
<g id="B14" class="n w" transform="translate(712 452)"><circle r="7"/><text y="3">14</text></g>
<g id="B69" class="n w" transform="translate(726 452)"><circle r="7"/><text y="3">69</text></g>
<g id="B58" class="n w" transform="translate(738 452)"><circle r="7"/><text y="3">58</text></g>
<g id="B57" class="n w" transform="translate(159 489)"><circle r="7"/><text y="3">57</text></g>
<g id="B90" class="n or r" transform="translate(232 489)"><circle r="7"/><text y="3">90</text></g>
<g id="B52" class="n gr" transform="translate(246 489)"><circle r="7"/><text y="3">52</text></g>
<g id="B51" class="n gr" transform="translate(259 489)"><circle r="7"/><text y="3">51</text></g>
<g id="B115" class="n dg" transform="translate(338 489)"><circle r="7"/><text y="3">115</text></g>
<g id="B105" class="n dg" transform="translate(352 489)"><circle r="7"/><text y="3">105</text></g>
<g id="B81" class="n w" transform="translate(366 489)"><circle r="7"/><text y="3">81</text></g>
<g id="B43" class="n w" transform="translate(379 489)"><circle r="7"/><text y="3">43</text></g>
<g id="B40" class="n or" transform="translate(392 489)"><circle r="7"/><text y="3">40</text></g>
<g id="B13" class="n lg" transform="translate(406 489)"><circle r="7"/><text y="3">13</text></g>
<g id="B2" class="n w" transform="translate(420 489)"><circle r="7"/><text y="3">2</text></g>
<g id="B46" class="n mg" transform="translate(492 489)"><circle r="7"/><text y="3">46</text></g>
<g id="B120" class="n dg" transform="translate(506 489)"><circle r="7"/><text y="3">120</text></g>
<g id="B117" class="n dg" transform="translate(519 489)"><circle r="7"/><text y="3">117</text></g>
<g id="B85" class="n ol r" transform="translate(532 489)"><circle r="7"/><text y="3">85</text></g>
<g id="B84" class="n w" transform="translate(546 489)"><circle r="7"/><text y="3">84</text></g>
<g id="B82" class="n w" transform="translate(559 489)"><circle r="7"/><text y="3">82</text></g>
<g id="B80" class="n pk r" transform="translate(572 489)"><circle r="7"/><text y="3">80</text></g>
<g id="B79" class="n pk r" transform="translate(585 489)"><circle r="7"/><text y="3">79</text></g>
<g id="B74" class="n cy r" transform="translate(598 489)"><circle r="7"/><text y="3">74</text></g>
<g id="B73" class="n cy r" transform="translate(612 489)"><circle r="7"/><text y="3">73</text></g>
<g id="B38" class="n w" transform="translate(626 489)"><circle r="7"/><text y="3">38</text></g>
<g id="B35" class="n w" transform="translate(639 489)"><circle r="7"/><text y="3">35</text></g>
<g id="B31" class="n pk" transform="translate(653 489)"><circle r="7"/><text y="3">31</text></g>
<g id="B24" class="n w" transform="translate(666 489)"><circle r="7"/><text y="3">24</text></g>
<g id="B22" class="n w" transform="translate(679 489)"><circle r="7"/><text y="3">22</text></g>
<g id="B104" class="n dg" transform="translate(692 489)"><circle r="7"/><text y="3">104</text></g>
<g id="B67" class="n w" transform="translate(706 489)"><circle r="7"/><text y="3">67</text></g>
<g id="B62" class="n ly r" transform="translate(738 489)"><circle r="7"/><text y="3">62</text></g>
<g id="B65" class="n lg r" transform="translate(378 526)"><circle r="7"/><text y="3">65</text></g>
<g id="B44" class="n tl" transform="translate(392 526)"><circle r="7"/><text y="3">44</text></g>
<g id="B41" class="n or" transform="translate(405 526)"><circle r="7"/><text y="3">41</text></g>
<g id="B108" class="n dg" transform="translate(492 526)"><circle r="7"/><text y="3">108</text></g>
<g id="B107" class="n dg" transform="translate(572 526)"><circle r="7"/><text y="3">107</text></g>
<g id="B25" class="n w" transform="translate(666 526)"><circle r="7"/><text y="3">25</text></g>
<g id="B86" class="n ol r" transform="translate(738 526)"><circle r="7"/><text y="3">86</text></g>
<g id="B99" class="n dg" transform="translate(378 562)"><circle r="7"/><text y="3">99</text></g>
<g id="B89" class="n w" transform="translate(392 562)"><circle r="7"/><text y="3">89</text></g>
<g id="B45" class="n tl" transform="translate(405 562)"><circle r="7"/><text y="3">45</text></g>
<g id="B102" class="n dg" transform="translate(645 562)"><circle r="7"/><text y="3">102</text></g>
<g id="B32" class="n pk" transform="translate(659 562)"><circle r="7"/><text y="3">32</text></g>
<g id="B29" class="n bl" transform="translate(672 562)"><circle r="7"/><text y="3">29</text></g>
<g id="B26" class="n w" transform="translate(686 562)"><circle r="7"/><text y="3">26</text></g>
<g id="B118" class="n dg" transform="translate(378 598)"><circle r="7"/><text y="3">118</text></g>
<g id="B112" class="n dg" transform="translate(392 598)"><circle r="7"/><text y="3">112</text></g>
<g id="B92" class="n w" transform="translate(406 598)"><circle r="7"/><text y="3">92</text></g>
<g id="B106" class="n dg" transform="translate(612 598)"><circle r="7"/><text y="3">106</text></g>
<g id="B87" class="n w" transform="translate(626 598)"><circle r="7"/><text y="3">87</text></g>
<g id="B72" class="n w" transform="translate(639 598)"><circle r="7"/><text y="3">72</text></g>
<g id="B71" class="n w" transform="translate(652 598)"><circle r="7"/><text y="3">71</text></g>
<g id="B60" class="n w" transform="translate(666 598)"><circle r="7"/><text y="3">60</text></g>
<g id="B54" class="n sa r" transform="translate(679 598)"><circle r="7"/><text y="3">54</text></g>
<g id="B34" class="n ol" transform="translate(692 598)"><circle r="7"/><text y="3">34</text></g>
<g id="B33" class="n ol" transform="translate(706 598)"><circle r="7"/><text y="3">33</text></g>
<g id="B116" class="n dg" transform="translate(386 635)"><circle r="7"/><text y="3">116</text></g>
<g id="B114" class="n dg" transform="translate(399 635)"><circle r="7"/><text y="3">114</text></g>
<g id="B100" class="n dg" transform="translate(626 635)"><circle r="7"/><text y="3">100</text></g>
<g id="B76" class="n bg r" transform="translate(666 635)"><circle r="7"/><text y="3">76</text></g>
<g id="B47" class="n mg" transform="translate(692 635)"><circle r="7"/><text y="3">47</text></g>
<g id="B78" class="n bg r" transform="translate(666 672)"><circle r="7"/><text y="3">78</text></g>
</g>
<g id="nodesC">
<g id="C124" class="n bl r" transform="translate(13 719)"><circle r="7.5"/><text y="3">124</text></g>
<g id="C121" class="n mg r" transform="translate(47 719)"><circle r="7.5"/><text y="3">121</text></g>
<g id="C119" class="n dg" transform="translate(63 719)"><circle r="7.5"/><text y="3">119</text></g>
<g id="C113" class="n dg" transform="translate(78 719)"><circle r="7.5"/><text y="3">113</text></g>
<g id="C101" class="n dg" transform="translate(96 719)"><circle r="7.5"/><text y="3">101</text></g>
<g id="C98" class="n w" transform="translate(113 719)"><circle r="7.5"/><text y="3">98</text></g>
<g id="C95" class="n tl r" transform="translate(130 719)"><circle r="7.5"/><text y="3">95</text></g>
<g id="C94" class="n tl r" transform="translate(146 719)"><circle r="7.5"/><text y="3">94</text></g>
<g id="C93" class="n tl" transform="translate(162 719)"><circle r="7.5"/><text y="3">93</text></g>
<g id="C91" class="n or r" transform="translate(179 719)"><circle r="7.5"/><text y="3">91</text></g>
<g id="C88" class="n w" transform="translate(197 719)"><circle r="7.5"/><text y="3">88</text></g>
<g id="C83" class="n w" transform="translate(212 719)"><circle r="7.5"/><text y="3">83</text></g>
<g id="C68" class="n w" transform="translate(229 719)"><circle r="7.5"/><text y="3">68</text></g>
<g id="C66" class="n lg r" transform="translate(246 719)"><circle r="7.5"/><text y="3">66</text></g>
<g id="C55" class="n sa r" transform="translate(262 719)"><circle r="7.5"/><text y="3">55</text></g>
<g id="C50" class="n bg" transform="translate(280 719)"><circle r="7.5"/><text y="3">50</text></g>
<g id="C49" class="n bg" transform="translate(297 719)"><circle r="7.5"/><text y="3">49</text></g>
<g id="C39" class="n or" transform="translate(313 719)"><circle r="7.5"/><text y="3">39</text></g>
<g id="C23" class="n w" transform="translate(338 719)"><circle r="7.5"/><text y="3">23</text></g>
<g id="C19" class="n cy" transform="translate(354 719)"><circle r="7.5"/><text y="3">19</text></g>
<g id="C18" class="n cy" transform="translate(438 719)"><circle r="7.5"/><text y="3">18</text></g>
<g id="C12" class="n lg" transform="translate(592 719)"><circle r="7.5"/><text y="3">12</text></g>
<g id="C10" class="n w" transform="translate(722 719)"><circle r="7.5"/><text y="3">10</text></g>
<g id="C7" class="n ly" transform="translate(738 719)"><circle r="7.5"/><text y="3">7</text></g>
<g id="C5" class="n sa" transform="translate(755 719)"><circle r="7.5"/><text y="3">5</text></g>
<g id="C4" class="n sa" transform="translate(772 719)"><circle r="7.5"/><text y="3">4</text></g>
<g id="C3" class="n sa" transform="translate(788 719)"><circle r="7.5"/><text y="3">3</text></g>
<g id="C125" class="n bl r" transform="translate(13 759)"><circle r="7.5"/><text y="3">125</text></g>
<g id="C127" class="n gr r" transform="translate(29 759)"><circle r="7.5"/><text y="3">127</text></g>
<g id="C123" class="n mg r" transform="translate(47 759)"><circle r="7.5"/><text y="3">123</text></g>
<g id="C122" class="n mg r" transform="translate(62 759)"><circle r="7.5"/><text y="3">122</text></g>
<g id="C103" class="n dg" transform="translate(96 759)"><circle r="7.5"/><text y="3">103</text></g>
<g id="C63" class="n w" transform="translate(113 759)"><circle r="7.5"/><text y="3">63</text></g>
<g id="C61" class="n ly r" transform="translate(129 759)"><circle r="7.5"/><text y="3">61</text></g>
<g id="C59" class="n w" transform="translate(146 759)"><circle r="7.5"/><text y="3">59</text></g>
<g id="C58" class="n w" transform="translate(163 759)"><circle r="7.5"/><text y="3">58</text></g>
<g id="C56" class="n w" transform="translate(179 759)"><circle r="7.5"/><text y="3">56</text></g>
<g id="C36" class="n w" transform="translate(196 759)"><circle r="7.5"/><text y="3">36</text></g>
<g id="C8" class="n ly" transform="translate(212 759)"><circle r="7.5"/><text y="3">8</text></g>
<g id="C6" class="n ly" transform="translate(229 759)"><circle r="7.5"/><text y="3">6</text></g>
<g id="C75" class="n bl r" transform="translate(262 759)"><circle r="7.5"/><text y="3">75</text></g>
<g id="C53" class="n gr" transform="translate(280 759)"><circle r="7.5"/><text y="3">53</text></g>
<g id="C48" class="n bg" transform="translate(297 759)"><circle r="7.5"/><text y="3">48</text></g>
<g id="C109" class="n dg" transform="translate(313 759)"><circle r="7.5"/><text y="3">109</text></g>
<g id="C37" class="n w" transform="translate(330 759)"><circle r="7.5"/><text y="3">37</text></g>
<g id="C20" class="n cy" transform="translate(346 759)"><circle r="7.5"/><text y="3">20</text></g>
<g id="C17" class="n cy" transform="translate(363 759)"><circle r="7.5"/><text y="3">17</text></g>
<g id="C16" class="n cy" transform="translate(379 759)"><circle r="7.5"/><text y="3">16</text></g>
<g id="C97" class="n w" transform="translate(396 759)"><circle r="7.5"/><text y="3">97</text></g>
<g id="C96" class="n w" transform="translate(413 759)"><circle r="7.5"/><text y="3">96</text></g>
<g id="C43" class="n w" transform="translate(429 759)"><circle r="7.5"/><text y="3">43</text></g>
<g id="C13" class="n lg" transform="translate(446 759)"><circle r="7.5"/><text y="3">13</text></g>
<g id="C9" class="n w" transform="translate(463 759)"><circle r="7.5"/><text y="3">9</text></g>
<g id="C1" class="n w" transform="translate(479 759)"><circle r="7.5"/><text y="3">1</text></g>
<g id="C108" class="n dg" transform="translate(497 759)"><circle r="7.5"/><text y="3">108</text></g>
<g id="C30" class="n bl" transform="translate(513 759)"><circle r="7.5"/><text y="3">30</text></g>
<g id="C28" class="n bl" transform="translate(563 759)"><circle r="7.5"/><text y="3">28</text></g>
<g id="C27" class="n bl" transform="translate(579 759)"><circle r="7.5"/><text y="3">27</text></g>
<g id="C21" class="n w" transform="translate(596 759)"><circle r="7.5"/><text y="3">21</text></g>
<g id="C15" class="n w" transform="translate(688 759)"><circle r="7.5"/><text y="3">15</text></g>
<g id="C14" class="n w" transform="translate(705 759)"><circle r="7.5"/><text y="3">14</text></g>
<g id="C69" class="n w" transform="translate(722 759)"><circle r="7.5"/><text y="3">69</text></g>
<g id="C128" class="n gr r" transform="translate(22 798)"><circle r="7.5"/><text y="3">128</text></g>
<g id="C126" class="n gr r" transform="translate(37 798)"><circle r="7.5"/><text y="3">126</text></g>
<g id="C62" class="n ly r" transform="translate(163 798)"><circle r="7.5"/><text y="3">62</text></g>
<g id="C57" class="n w" transform="translate(179 798)"><circle r="7.5"/><text y="3">57</text></g>
<g id="C90" class="n or r" transform="translate(262 798)"><circle r="7.5"/><text y="3">90</text></g>
<g id="C52" class="n gr" transform="translate(280 798)"><circle r="7.5"/><text y="3">52</text></g>
<g id="C51" class="n gr" transform="translate(297 798)"><circle r="7.5"/><text y="3">51</text></g>
<g id="C110" class="n dg" transform="translate(328 798)"><circle r="7.5"/><text y="3">110</text></g>
<g id="C105" class="n dg" transform="translate(345 798)"><circle r="7.5"/><text y="3">105</text></g>
<g id="C81" class="n w" transform="translate(361 798)"><circle r="7.5"/><text y="3">81</text></g>
<g id="C70" class="n w" transform="translate(377 798)"><circle r="7.5"/><text y="3">70</text></g>
<g id="C44" class="n tl" transform="translate(395 798)"><circle r="7.5"/><text y="3">44</text></g>
<g id="C42" class="n w" transform="translate(452 798)"><circle r="7.5"/><text y="3">42</text></g>
<g id="C40" class="n or" transform="translate(469 798)"><circle r="7.5"/><text y="3">40</text></g>
<g id="C11" class="n w" transform="translate(486 798)"><circle r="7.5"/><text y="3">11</text></g>
<g id="C2" class="n w" transform="translate(502 798)"><circle r="7.5"/><text y="3">2</text></g>
<g id="C46" class="n mg" transform="translate(513 798)"><circle r="7.5"/><text y="3">46</text></g>
<g id="C120" class="n dg" transform="translate(530 798)"><circle r="7.5"/><text y="3">120</text></g>
<g id="C117" class="n dg" transform="translate(547 798)"><circle r="7.5"/><text y="3">117</text></g>
<g id="C85" class="n ol r" transform="translate(563 798)"><circle r="7.5"/><text y="3">85</text></g>
<g id="C84" class="n w" transform="translate(580 798)"><circle r="7.5"/><text y="3">84</text></g>
<g id="C80" class="n pk r" transform="translate(597 798)"><circle r="7.5"/><text y="3">80</text></g>
<g id="C79" class="n pk r" transform="translate(613 798)"><circle r="7.5"/><text y="3">79</text></g>
<g id="C38" class="n w" transform="translate(629 798)"><circle r="7.5"/><text y="3">38</text></g>
<g id="C24" class="n w" transform="translate(646 798)"><circle r="7.5"/><text y="3">24</text></g>
<g id="C22" class="n w" transform="translate(663 798)"><circle r="7.5"/><text y="3">22</text></g>
<g id="C104" class="n dg" transform="translate(680 798)"><circle r="7.5"/><text y="3">104</text></g>
<g id="C67" class="n w" transform="translate(697 798)"><circle r="7.5"/><text y="3">67</text></g>
<g id="C86" class="n ol r" transform="translate(163 838)"><circle r="7.5"/><text y="3">86</text></g>
<g id="C99" class="n dg" transform="translate(377 838)"><circle r="7.5"/><text y="3">99</text></g>
<g id="C89" class="n w" transform="translate(394 838)"><circle r="7.5"/><text y="3">89</text></g>
<g id="C45" class="n tl" transform="translate(412 838)"><circle r="7.5"/><text y="3">45</text></g>
<g id="C111" class="n dg" transform="translate(444 838)"><circle r="7.5"/><text y="3">111</text></g>
<g id="C77" class="n bg r" transform="translate(462 838)"><circle r="7.5"/><text y="3">77</text></g>
<g id="C65" class="n lg r" transform="translate(477 838)"><circle r="7.5"/><text y="3">65</text></g>
<g id="C41" class="n or" transform="translate(494 838)"><circle r="7.5"/><text y="3">41</text></g>
<g id="C64" class="n w" transform="translate(513 838)"><circle r="7.5"/><text y="3">64</text></g>
<g id="C107" class="n dg" transform="translate(597 838)"><circle r="7.5"/><text y="3">107</text></g>
<g id="C82" class="n w" transform="translate(638 838)"><circle r="7.5"/><text y="3">82</text></g>
<g id="C25" class="n w" transform="translate(655 838)"><circle r="7.5"/><text y="3">25</text></g>
<g id="C118" class="n dg" transform="translate(361 877)"><circle r="7.5"/><text y="3">118</text></g>
<g id="C116" class="n dg" transform="translate(377 877)"><circle r="7.5"/><text y="3">116</text></g>
<g id="C114" class="n dg" transform="translate(394 877)"><circle r="7.5"/><text y="3">114</text></g>
<g id="C112" class="n dg" transform="translate(411 877)"><circle r="7.5"/><text y="3">112</text></g>
<g id="C92" class="n w" transform="translate(428 877)"><circle r="7.5"/><text y="3">92</text></g>
<g id="C115" class="n dg" transform="translate(444 877)"><circle r="7.5"/><text y="3">115</text></g>
<g id="C71" class="n w" transform="translate(618 877)"><circle r="7.5"/><text y="3">71</text></g>
<g id="C54" class="n sa r" transform="translate(651 877)"><circle r="7.5"/><text y="3">54</text></g>
<g id="C29" class="n bl" transform="translate(667 877)"><circle r="7.5"/><text y="3">29</text></g>
<g id="C26" class="n w" transform="translate(684 877)"><circle r="7.5"/><text y="3">26</text></g>
<g id="C100" class="n dg" transform="translate(618 917)"><circle r="7.5"/><text y="3">100</text></g>
<g id="C47" class="n mg" transform="translate(634 917)"><circle r="7.5"/><text y="3">47</text></g>
<g id="C35" class="n w" transform="translate(651 917)"><circle r="7.5"/><text y="3">35</text></g>
<g id="C33" class="n ol" transform="translate(667 917)"><circle r="7.5"/><text y="3">33</text></g>
<g id="C32" class="n pk" transform="translate(684 917)"><circle r="7.5"/><text y="3">32</text></g>
<g id="C31" class="n pk" transform="translate(702 917)"><circle r="7.5"/><text y="3">31</text></g>
<g id="C106" class="n dg" transform="translate(637 956)"><circle r="7.5"/><text y="3">106</text></g>
<g id="C102" class="n dg" transform="translate(654 956)"><circle r="7.5"/><text y="3">102</text></g>
<g id="C78" class="n bg r" transform="translate(671 956)"><circle r="7.5"/><text y="3">78</text></g>
<g id="C72" class="n w" transform="translate(687 956)"><circle r="7.5"/><text y="3">72</text></g>
<g id="C60" class="n w" transform="translate(721 956)"><circle r="7.5"/><text y="3">60</text></g>
<g id="C34" class="n ol" transform="translate(737 956)"><circle r="7.5"/><text y="3">34</text></g>
<g id="C74" class="n cy r" transform="translate(679 996)"><circle r="7.5"/><text y="3">74</text></g>
<g id="C73" class="n cy r" transform="translate(695 996)"><circle r="7.5"/><text y="3">73</text></g>
<g id="C87" class="n w" transform="translate(712 996)"><circle r="7.5"/><text y="3">87</text></g>
<g id="C76" class="n bg r" transform="translate(728 996)"><circle r="7.5"/><text y="3">76</text></g>
</g>
</svg>
